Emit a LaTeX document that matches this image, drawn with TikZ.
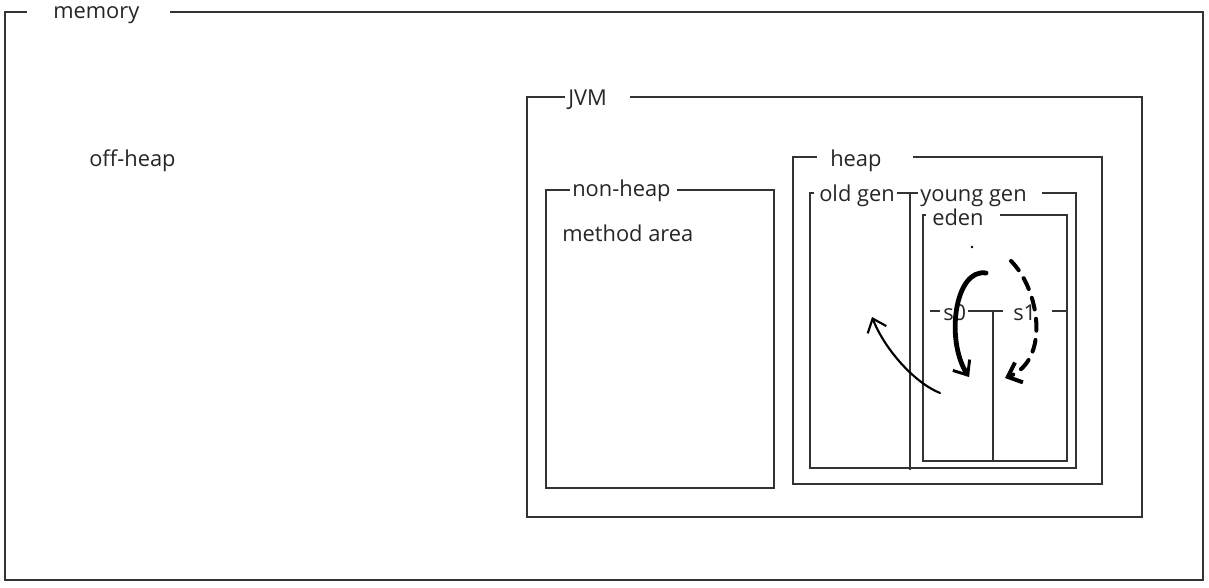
\documentclass[tikz,border=0pt]{standalone}
\usepackage{fontspec}
\setmainfont{Open Sans}
\usepackage{tikz}
\usetikzlibrary{arrows.meta,positioning}
\tikzset{frame/.style={draw=black!80,line width=1pt},
	tag/.style={anchor=base west,inner sep=0pt,text=black!85,font=\fontsize{16.4}{18}\selectfont},
	pen/.style={draw=black,line cap=round,line join=round},
	thickpen/.style={pen,line width=3.6pt,-{Straight Barb[length=9pt,width=15pt,line width=2.2pt]}},
	dashpen/.style={pen,line width=3pt,dash pattern=on 9pt off 7pt,-{Straight Barb[length=9pt,width=16pt,line width=3pt]}},
	thinpen/.style={pen,line width=1.6pt,-{Straight Barb[length=9pt,width=15pt,line width=1.6pt]}}}
\begin{document}
\begin{tikzpicture}[x=0.75pt,y=-0.75pt]
	\useasboundingbox(0,0)rectangle(1209,587);
	\foreach \l/\t/\r/\b/\ga/\gb in{5/12/1203/580/27/170,527/97/1142/517/565/630,546/190/774/488/570/677,793/157/1102/484/817/913,810/193/1076/468/814/1042,923/215/1067/461/926/1000}
	\draw[frame](\gb,\t)--(\r,\t)--(\r,\b)--(\l,\b)--(\l,\t)--(\ga,\t);
	\draw[frame](897,193)--(918,193);
	\draw[frame](910,193)--(910,470);
	\foreach \a/\b in{930/940,968/1003,1052/1067}
	\draw[frame](\a,311)--(\b,311);
	\draw[frame](993,311)--(993,461);
	
	\node[tag](memory)at(53,18){memory};
	\node[tag](offheap)at(89,166){off-heap};
	\node[tag](jvm)at(568,105){JVM};
	\node[tag](nonheap)at(572,196){non-heap};
	\node[tag](method)at(562,241){method area};
	\node[tag](heap)at(830,166){heap};
	\node[tag](oldgen)at(819,201){old gen};
	\node[tag](younggen)at(920,201){young gen};
	\node[tag](eden)at(932,225){eden};
	\node[tag](s0)at(943,320){s0};
	\node[tag](s1)at(1013,320){s1};
	
	\fill(972,247)circle(1pt);
	\coordinate(edenA)at(986,273);\coordinate(sA)at(969,377);
	\coordinate(edenB)at(1011,261);\coordinate(sB)at(1005,378);
	\coordinate(sC)at(940,393);\coordinate(oldC)at(872,317);
	\draw[thickpen](edenA)..controls(955,268)and(945,340)..(sA);
	\draw[dashpen](edenB)..controls(1040,290)and(1050,360)..(sB);
	\draw[thinpen](sC)..controls(915,383)and(885,350)..(oldC);
\end{tikzpicture}
\end{document}
